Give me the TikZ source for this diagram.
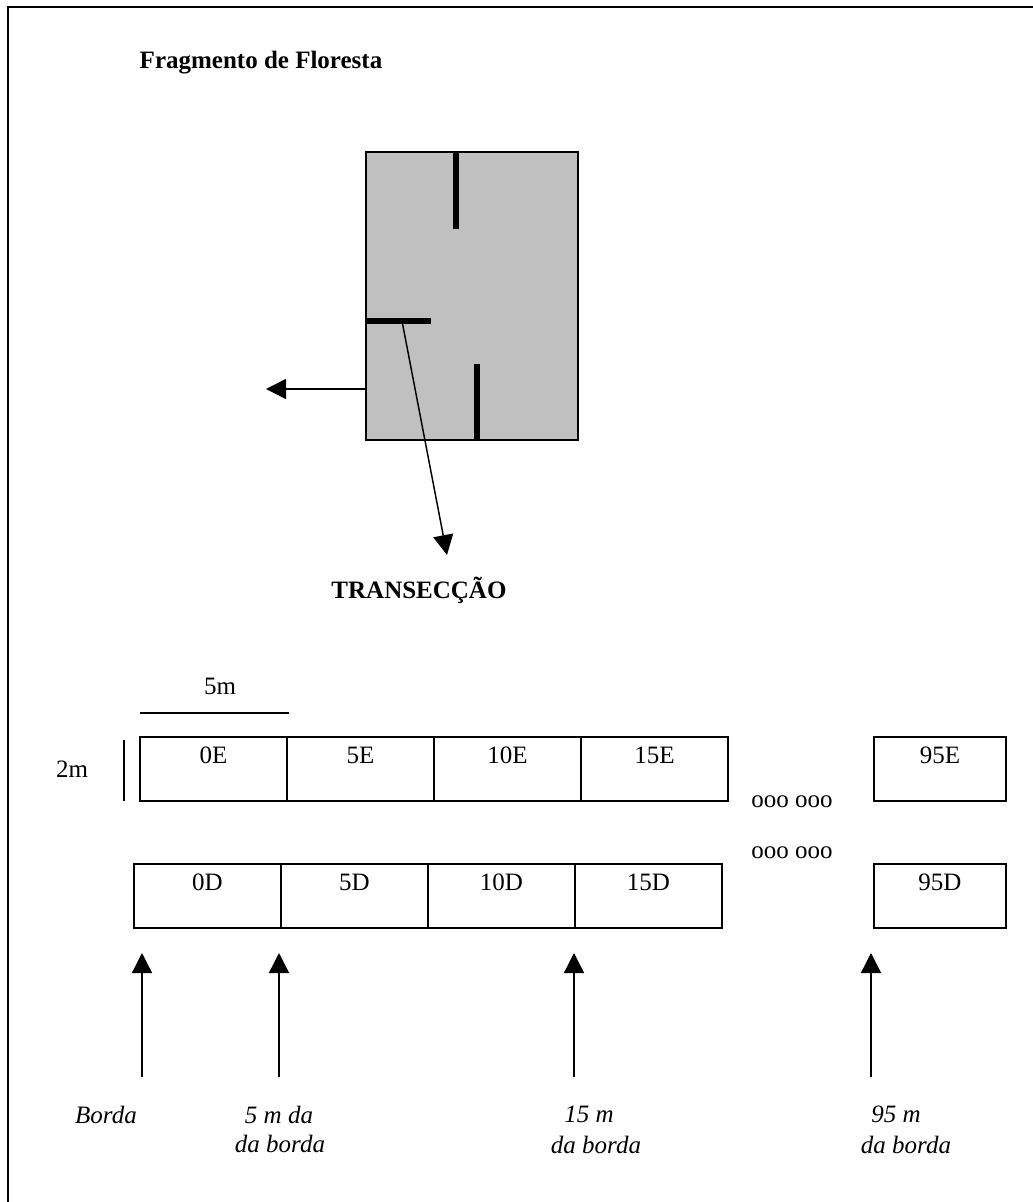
\documentclass[tikz,border=0pt]{standalone}
\usepackage{fontspec}
\setmainfont{Liberation Serif}
\usetikzlibrary{arrows.meta,positioning}
\definecolor{FragFill}{HTML}{C0C0C0}

\begin{document}
\begin{tikzpicture}[x=0.48pt,y=-0.48pt,
  cell/.style={draw,line width=0.9pt,outer sep=0pt,inner ysep=0pt,
    minimum width=70.56pt,minimum height=30.72pt,
    text height=12.5pt,text depth=18.2pt,
    font=\fontsize{12}{14}\selectfont},
  lastcell/.style={cell,minimum width=63.36pt},
  frag/.style={draw,fill=FragFill,line width=0.7pt,inner sep=0pt,
    outer sep=0pt,minimum width=101.76pt,minimum height=138.24pt},
  bar/.style={line width=2.9pt},
  thin/.style={line width=0.7pt},
  arr/.style={-{Triangle[length=9.6pt,width=9.6pt]},line width=0.7pt},
  ttl/.style={font=\fontsize{12}{14}\selectfont\bfseries,anchor=base},
  txt/.style={font=\fontsize{12}{14}\selectfont,anchor=base},
  dist/.style={font=\fontsize{12}{14}\selectfont\itshape,anchor=base}
]
\useasboundingbox (0,0) rectangle (1033,1202);
\clip (0,0) rectangle (1033,1202);
\draw[line width=1pt] (8,7) rectangle (1060,1230);

% Fragment with the three transects
\node[ttl] (title) at (261,68) {Fragmento de Floresta};
\node[frag] (frag) at (472,296) {};
\draw[bar] (456,152) -- (456,229);
\draw[bar] (366,321) -- (431,321);
\draw[bar] (477,364) -- (477,440);
\coordinate (edge) at (266,389);
\draw[arr] (frag.west |- edge) -- (edge);
\coordinate (tr) at (402,321);
\coordinate (trtip) at (447,555);
\draw[arr] (tr) -- (trtip);
\node[ttl] (transect) at (419,598) {TRANSECÇÃO};

% Plots along the transect
\node[txt] (len) at (220,694) {5m};
\draw[thin] (140,713) -- (289,713);
\node[txt] (wid) at (72,777) {2m};
\draw[thin] (124,740) -- (124,801);

\node[cell,anchor=north west] (e0) at (140,737) {0E};
\node[cell,right=0pt of e0] (e5) {5E};
\node[cell,right=0pt of e5] (e10) {10E};
\node[cell,right=0pt of e10] (e15) {15E};
\node[lastcell,anchor=north west] (e95) at (874,737) {95E};

\node[txt] (dots1) at (792,807) {ooo ooo};
\node[txt] (dots2) at (792,858) {ooo ooo};

\node[cell,anchor=north west] (d0) at (134,864) {0D};
\node[cell,right=0pt of d0] (d5) {5D};
\node[cell,right=0pt of d5] (d10) {10D};
\node[cell,right=0pt of d10] (d15) {15D};
\node[lastcell,anchor=north west] (d95) at (874,864) {95D};

% Distance from the edge
\coordinate (t0) at (142,953);   \coordinate (f0) at (142,1077);
\coordinate (t5) at (279,953);   \coordinate (f5) at (279,1077);
\coordinate (t15) at (574,953);  \coordinate (f15) at (574,1077);
\coordinate (t95) at (871,953);  \coordinate (f95) at (871,1077);
\draw[arr] (f0) -- (t0);
\draw[arr] (f5) -- (t5);
\draw[arr] (f15) -- (t15);
\draw[arr] (f95) -- (t95);

\node[dist] (l0) at (106,1123) {Borda};
\node[dist] (l5a) at (279,1123) {5 m da};
\node[dist] (l5b) at (280,1152) {da borda};
\node[dist] (l15a) at (589,1122) {15 m};
\node[dist] (l15b) at (596,1153) {da borda};
\node[dist] (l95a) at (896,1122) {95 m};
\node[dist] (l95b) at (906,1153) {da borda};
\end{tikzpicture}
\end{document}
